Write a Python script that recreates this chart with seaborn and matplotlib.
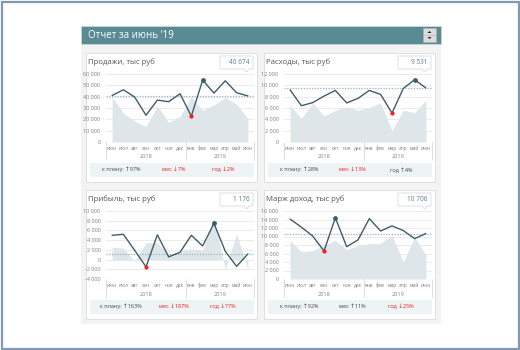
import numpy as np
import pandas as pd
import matplotlib
matplotlib.use("Agg")
import matplotlib.pyplot as plt
import seaborn as sns
from matplotlib.patches import Rectangle, Polygon
from matplotlib.ticker import FuncFormatter, MultipleLocator

# ---------------- data ----------------
months = ["июн", "июл", "авг", "сен", "окт", "ноя", "дек",
          "янв", "фев", "мар", "апр", "май", "июн"]
years = ["2018", "2019"]
report_title = "Отчет за июнь '19"

titles = ["Продажи, тыс руб", "Расходы, тыс руб", "Прибыль, тыс руб", "Марж доход, тыс руб"]
current_values = ["40 674", "9 531", "1 176", "10 706"]

sales_fact = [41000, 46100, 39600, 23600, 37000, 35500, 42600, 22800, 54600, 43200, 54000, 43500, 40674]
sales_prev = [40000, 25400, 18600, 13600, 32000, 17400, 22500, 40000, 27800, 32800, 39300, 33400, 20700]
sales_plan = 40500

costs_fact = [9200, 6400, 6950, 8100, 9100, 6900, 7700, 9100, 8400, 5100, 9450, 11000, 9531]
costs_prev = [6500, 4200, 6900, 4600, 5600, 6200, 5600, 6100, 6900, 2000, 5600, 5200, 7400]
costs_plan = 9600

profit_fact = [5000, 5200, 1900, -1500, 5100, 550, 1500, 5000, 2800, 7450, 1700, -1400, 1176]
profit_prev = [2550, 2350, -350, 3500, 3500, 1000, 1700, 2200, 1900, 8400, -2000, 5300, -2200]
profit_plan = 1200

margin_fact = [14100, 12200, 10100, 6600, 14400, 7600, 9200, 14200, 11300, 12500, 11400, 9500, 10706]
margin_prev = [9100, 6400, 6700, 7900, 9100, 6900, 7900, 8300, 8400, 10300, 4000, 9900, 5600]
margin_plan = 10500

plan_stats = ["к плану: ↑97%", "к плану: ↑28%", "к плану: ↑163%", "к плану: ↑92%"]
month_stats = ["мес ↓7%", "мес ↓13%", "мес ↓187%", "мес ↑11%"]
year_stats = ["год ↓2%", "год ↑4%", "год ↓77%", "год ↓25%"]

facts = [sales_fact, costs_fact, profit_fact, margin_fact]
prevs = [sales_prev, costs_prev, profit_prev, margin_prev]
plans = [sales_plan, costs_plan, profit_plan, margin_plan]
ylims = [(0, 60000, 10000), (0, 12000, 2000), (-4000, 10000, 2000), (0, 16000, 2000)]

# ---------------- style ----------------
sns.set_theme(style="white")
plt.rcParams["font.family"] = ["Open Sans", "DejaVu Sans"]

W, H = 520, 350
fig = plt.figure(figsize=(W / 100, H / 100), dpi=100)
bg = fig.add_axes([0, 0, 1, 1], zorder=0)
bg.set_xlim(0, W)
bg.set_ylim(H, 0)
bg.axis("off")

C_HEADER = "#5a8a93"
C_LINE = "#3f5d69"
C_AREA = "#dfe6e9"
C_PLAN = "#93b5c0"
C_GRID = "#e8e8e8"
C_TICK = "#808080"
C_RED = "#ff1a1a"
C_TEXT = "#454545"
C_VALUE = "#4f7f93"
C_BAND = "#eef3f5"


def rect(x0, y0, x1, y1, **kw):
    bg.add_patch(Rectangle((x0, y0), x1 - x0, y1 - y0, **kw))


# outer frame
rect(1.5, 1.5, 518.5, 348.5, fc="white", ec="#8199b3", lw=1.6)
# container
rect(81, 43, 441, 324, fc="#f3f3f3", ec="none")
# header
rect(81, 26, 441, 43.5, fc=C_HEADER, ec="#c9d6d9", lw=0.6)
bg.text(88, 35, report_title, color="white", fontsize=7, va="center", ha="left")
# spinner
rect(423, 28, 436, 41.5, fc="#dcdcdc", ec="#b0b0b0", lw=0.4)
bg.plot([423, 436], [34.8, 34.8], color="#b0b0b0", lw=0.4)
bg.add_patch(Polygon([[427.5, 33], [431.5, 33], [429.5, 31]], closed=True, fc="#222222", ec="none"))
bg.add_patch(Polygon([[427.5, 37], [431.5, 37], [429.5, 39]], closed=True, fc="#222222", ec="none"))

panels = [(86, 53), (264, 53), (86, 190), (264, 190)]
PW, PH = 171, 129

fmt = FuncFormatter(lambda v, p: f"{int(round(v)):,}".replace(",", " "))
xpos = np.arange(len(months))

for i, (px, py) in enumerate(panels):
    # panel box
    rect(px, py, px + PW, py + PH, fc="white", ec="#dadada", lw=0.6)
    bg.text(px + 2.5, py + 9, titles[i], fontsize=5.6, color="#555555", va="center", ha="left")
    # value box with pointer
    bx0, by0, bx1, by1 = px + 134, py + 3, px + 167, py + 16
    bg.add_patch(Polygon([[bx0, by0], [bx1, by0], [bx1, by1], [px + 163, by1],
                          [px + 160.5, by1 + 3], [px + 158, by1], [bx0, by1]],
                         closed=True, fc="white", ec="#d9d9d9", lw=0.6))
    bg.text(bx1 - 3.5, (by0 + by1) / 2 + 0.3, current_values[i], fontsize=4.7, color=C_VALUE,
            va="center", ha="right")
    # stats band
    rect(px + 4, py + 110, px + 168, py + 123.5, fc=C_BAND, ec="none")
    for cx, s in zip((35, 88, 137), (plan_stats[i], month_stats[i], year_stats[i])):
        col = C_RED if "↓" in s else C_TEXT
        bg.text(px + cx, py + 116.8, s, fontsize=4.0, color=col, va="center", ha="center")

    # chart axes
    ax_l, ax_r = px + 20.4, px + 167.6
    ax_t, ax_b = py + 21, py + 89
    ax = fig.add_axes([ax_l / W, 1 - ax_b / H, (ax_r - ax_l) / W, (ax_b - ax_t) / H], zorder=2)
    ax.set_facecolor("none")
    lo, hi, step = ylims[i]
    df = pd.DataFrame({"x": xpos, "fact": facts[i], "prev": prevs[i]})
    ax.fill_between(df["x"], df["prev"], 0, color=C_AREA, lw=0, zorder=1)
    ax.axhline(plans[i], color=C_PLAN, lw=0.9, ls=(0, (1, 1.2)), zorder=2)
    sns.lineplot(data=df, x="x", y="fact", ax=ax, color=C_LINE, lw=1.0, zorder=3)
    imin = int(np.argmin(facts[i]))
    imax = int(np.argmax(facts[i]))
    sns.scatterplot(x=[xpos[imin]], y=[facts[i][imin]], ax=ax, color=C_RED, s=9, lw=0, zorder=4)
    sns.scatterplot(x=[xpos[imax]], y=[facts[i][imax]], ax=ax, color=C_LINE, s=12, lw=0, zorder=4)

    ax.set_xlim(-0.5, len(months) - 0.5)
    ax.set_ylim(lo, hi)
    ax.yaxis.set_major_locator(MultipleLocator(step))
    ax.yaxis.set_major_formatter(fmt)
    ax.set_xticks(xpos)
    ax.set_xticklabels(months)
    ax.tick_params(axis="both", length=0, labelcolor=C_TICK)
    ax.tick_params(axis="y", pad=4.3, labelsize=4.0)
    ax.tick_params(axis="x", pad=2.8, labelsize=3.5)
    ax.grid(axis="y", color=C_GRID, lw=0.6, zorder=0)
    ax.set_axisbelow(True)
    ax.set_xlabel("")
    ax.set_ylabel("")
    for sp in ax.spines.values():
        sp.set_visible(False)
    ax.axhline(lo, color="#d9d9d9", lw=0.6, zorder=0)
    # multi-level category axis
    hpx = ax_b - ax_t
    tr = ax.get_xaxis_transform()
    for sx in (-0.5, 6.5, len(months) - 0.5):
        ax.plot([sx, sx], [0, -18 / hpx], transform=tr, color="#d9d9d9", lw=0.6, clip_on=False)
    ax.text(3, -15 / hpx, years[0], transform=tr, fontsize=4.1, color=C_TICK, ha="center", va="center")
    ax.text(9.5, -15 / hpx, years[1], transform=tr, fontsize=4.1, color=C_TICK, ha="center", va="center")
    if ax.get_legend():
        ax.get_legend().remove()

fig.savefig("out.png", dpi=100)
